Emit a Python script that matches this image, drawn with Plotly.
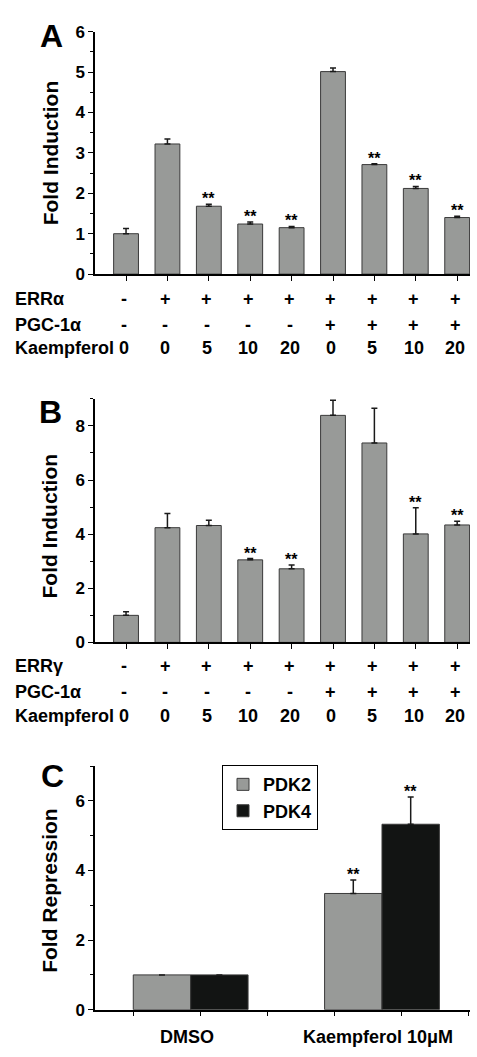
import plotly.graph_objects as go

# ---------------- data ----------------
conditions = list(range(9))
errA_row = ["-", "+", "+", "+", "+", "+", "+", "+", "+"]
pgcA_row = ["-", "-", "-", "-", "-", "+", "+", "+", "+"]
kaemp_row = ["0", "0", "5", "10", "20", "0", "5", "10", "20"]

valsA = [1.00, 3.22, 1.68, 1.24, 1.15, 5.01, 2.71, 2.12, 1.40]
errsA = [0.13, 0.12, 0.05, 0.05, 0.03, 0.09, 0.02, 0.05, 0.03]
sigA = ["", "", "**", "**", "**", "", "**", "**", "**"]

valsB = [1.00, 4.24, 4.32, 3.05, 2.72, 8.39, 7.37, 4.01, 4.34]
errsB = [0.13, 0.52, 0.19, 0.05, 0.14, 0.56, 1.28, 0.97, 0.14]
sigB = ["", "", "", "**", "**", "", "", "**", "**"]

groupsC = ["DMSO", "Kaempferol 10μM"]
groupPosC = [1, 2]
pdk2 = [1.00, 3.34]
pdk2_err = [0.0, 0.39]
pdk4 = [1.00, 5.33]
pdk4_err = [0.0, 0.78]
sigC2 = ["", "**"]
sigC4 = ["", "**"]

# ---------------- style ----------------
W, H = 477, 1057
GRAY = "#989a98"
BLACK = "#121413"
EDGE = "#3a3a3a"
FONT = "Liberation Sans"


def py(p):
    return 1 - p / H


def px(p):
    return p / W


fig = go.Figure()

def bar_trace(x, y, err, color, xa, ya, name=None, show=False, width=None):
    return go.Bar(
        x=x, y=y, name=name, showlegend=show,
        marker=dict(color=color, line=dict(color=EDGE, width=1)),
        width=width,
        error_y=dict(type="data", array=err, arrayminus=[0] * len(err),
                     symmetric=False, color="#1a1a1a", thickness=1.5, width=3),
        xaxis=xa, yaxis=ya,
    )

fig.add_trace(bar_trace(conditions, valsA, errsA, GRAY, "x", "y", width=0.6))
fig.add_trace(bar_trace(conditions, valsB, errsB, GRAY, "x2", "y2", width=0.6))
fig.add_trace(bar_trace(groupPosC, pdk2, pdk2_err, GRAY, "x3", "y3", name="PDK2", show=True))
fig.add_trace(bar_trace(groupPosC, pdk4, pdk4_err, BLACK, "x3", "y3", name="PDK4", show=True))

xdom = [px(95), px(470)]
tickfont = dict(family=FONT, size=17, color="black", weight="bold")

common_x = dict(showgrid=False, zeroline=False, showline=True, linecolor="black",
                linewidth=1.5, ticks="outside", ticklen=5, tickwidth=1.2,
                tickcolor="black", showticklabels=False, domain=xdom)
common_y = dict(showgrid=False, zeroline=False, showline=True, linecolor="black",
                linewidth=1.5, ticks="outside", ticklen=5, tickwidth=1.2,
                tickcolor="black", tickfont=tickfont)

fig.update_layout(
    xaxis=dict(common_x, range=[-0.75, 8.31], tickvals=conditions, anchor="y"),
    yaxis=dict(common_y, range=[0, 6], dtick=1, domain=[py(270), py(23)], anchor="x",
               minor=dict(ticks="outside", ticklen=3, dtick=0.5, tickcolor="black")),
    xaxis2=dict(common_x, range=[-0.75, 8.31], tickvals=conditions, anchor="y2"),
    yaxis2=dict(common_y, range=[0, 9], dtick=2, domain=[py(645), py(397)], anchor="x2",
                minor=dict(ticks="outside", ticklen=3, dtick=1, tickcolor="black")),
    xaxis3=dict(common_x, range=[0.5, 2.46], tick0=0.7, dtick=0.35, anchor="y3"),
    yaxis3=dict(common_y, range=[0, 7], dtick=2, domain=[py(1019), py(771)], anchor="x3",
                minor=dict(ticks="outside", ticklen=3, dtick=1, tickcolor="black")),
    barmode="group", bargap=0.4, bargroupgap=0,
    width=W, height=H, margin=dict(l=0, r=0, t=0, b=0),
    paper_bgcolor="white", plot_bgcolor="white",
    font=dict(family=FONT, color="black"),
    legend=dict(x=px(222), y=py(770), xanchor="left", yanchor="top",
                bordercolor="black", borderwidth=1, bgcolor="white",
                font=dict(family=FONT, size=18, color="black", weight="bold"),
                itemwidth=30, tracegroupgap=0),
)

ann = []

def text(x, y, s, size, xref="paper", yref="paper", xanchor="center", yanchor="middle",
         angle=0, yshift=0):
    ann.append(dict(x=x, y=y, xref=xref, yref=yref, text="<b>%s</b>" % s, showarrow=False,
                    xanchor=xanchor, yanchor=yanchor, textangle=angle, yshift=yshift,
                    font=dict(family=FONT, size=size, color="black")))

# panel letters
text(px(51), py(28), "A", 32)
text(px(50), py(410), "B", 32)
text(px(52), py(781), "C", 32)

# y titles
text(px(50), py(147), "Fold Induction", 21, angle=-90)
text(px(50), py(527), "Fold Induction", 21, angle=-90)
text(px(50), py(898), "Fold Repression", 21, angle=-90)

# condition rows
rows = [
    ("x", [("ERRα", errA_row, 295), ("PGC-1α", pgcA_row, 322), ("Kaempferol", kaemp_row, 345)]),
    ("x2", [("ERRγ", errA_row, 669), ("PGC-1α", pgcA_row, 695), ("Kaempferol", kaemp_row, 720)]),
]
for xr, rowlist in rows:
    for label, vals, ypix in rowlist:
        text(px(13), py(ypix), label, 18, xanchor="left")
        for i, v in enumerate(vals):
            if label == "Kaempferol" and i == 0:
                text(px(117), py(ypix), v, 18, xanchor="left")
            else:
                text(i - 0.05, py(ypix), v, 18, xref=xr)

# significance marks
for i, s in enumerate(sigA):
    if s:
        text(i, valsA[i] + errsA[i], s, 16, xref="x", yref="y", yanchor="bottom", yshift=-5)
for i, s in enumerate(sigB):
    if s:
        text(i, valsB[i] + errsB[i], s, 16, xref="x2", yref="y2", yanchor="bottom", yshift=-5)
for i, s in enumerate(sigC2):
    if s:
        text(groupPosC[i] - 0.15, pdk2[i] + pdk2_err[i], s, 16, xref="x3", yref="y3",
             yanchor="bottom", yshift=-5)
for i, s in enumerate(sigC4):
    if s:
        text(groupPosC[i] + 0.15, pdk4[i] + pdk4_err[i], s, 16, xref="x3", yref="y3",
             yanchor="bottom", yshift=-5)

# C group labels
for g, xpos in zip(groupsC, groupPosC):
    text(xpos - 0.02, py(1047), g, 18, xref="x3")

fig.update_layout(annotations=ann)
fig.write_html("out.html", config={"displayModeBar": False},
               post_script="document.body.style.margin='0';document.body.style.overflow='hidden';")
